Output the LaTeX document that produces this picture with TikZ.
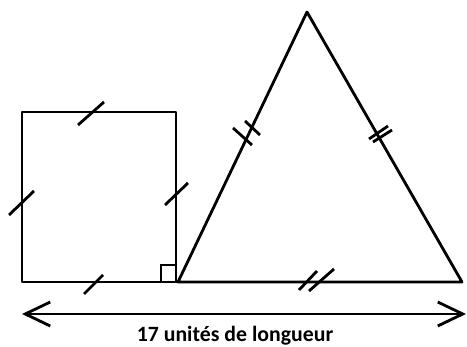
\documentclass[tikz,border=0pt]{standalone}
\usepackage{fontspec}
\setmainfont{Carlito}
\usetikzlibrary{arrows.meta}

\begin{document}
\begin{tikzpicture}[
    x=0.02cm, y=-0.02cm,
    edge/.style={draw, line width=1.6pt, line join=round},
    tick/.style={draw, line width=1.6pt},
    span/.style={draw, line width=1.6pt, {Straight Barb[length=0.5cm,width=0.48cm,line width=1.6pt]}-{Straight Barb[length=0.5cm,width=0.48cm,line width=1.6pt]}},
    label/.style={font=\fontsize{12.4}{14}\selectfont\bfseries, anchor=base, inner sep=0pt}
  ]
  \useasboundingbox (0,0) rectangle (467,347);

  % square
  \coordinate (sqBL) at (22,282);
  \coordinate (sqTL) at (22,112);
  \coordinate (sqTR) at (176,112);
  \coordinate (sqBR) at (176,282);
  \path[edge] (sqBL) -- (sqTL) -- (sqTR) -- (sqBR) -- cycle;

  % right angle mark
  \path[draw, line width=1.2pt] (161,282) -- (161,265) -- (176,265);

  % triangle
  \coordinate (triL) at (178,282);
  \coordinate (triTop) at (307,12);
  \coordinate (triR) at (462,282);
  \path[edge] (triL) -- (triTop) -- (triR) -- cycle;
  \path[edge] (sqBR) -- (triL);

  % single ticks on the square
  \path[tick] (78,125) -- (104,102);
  \path[tick] (9,215) -- (34,191);
  \path[tick] (165,205) -- (188,183);
  \path[tick] (84,294) -- (103,275);

  % double ticks on the triangle
  \path[tick] (233,128) -- (252,145);
  \path[tick] (245,121) -- (260,135);
  \path[tick] (369,139) -- (388,126);
  \path[tick] (373,142) -- (392,130);
  \path[tick] (299,290) -- (317,271);
  \path[tick] (309,291) -- (334,269);

  % length arrow
  \coordinate (spanL) at (22,314);
  \coordinate (spanR) at (466,314);
  \path[span] (spanL) -- (spanR);
  \node[label] (lbl) at (235,342) {17 unités de longueur};
\end{tikzpicture}
\end{document}
